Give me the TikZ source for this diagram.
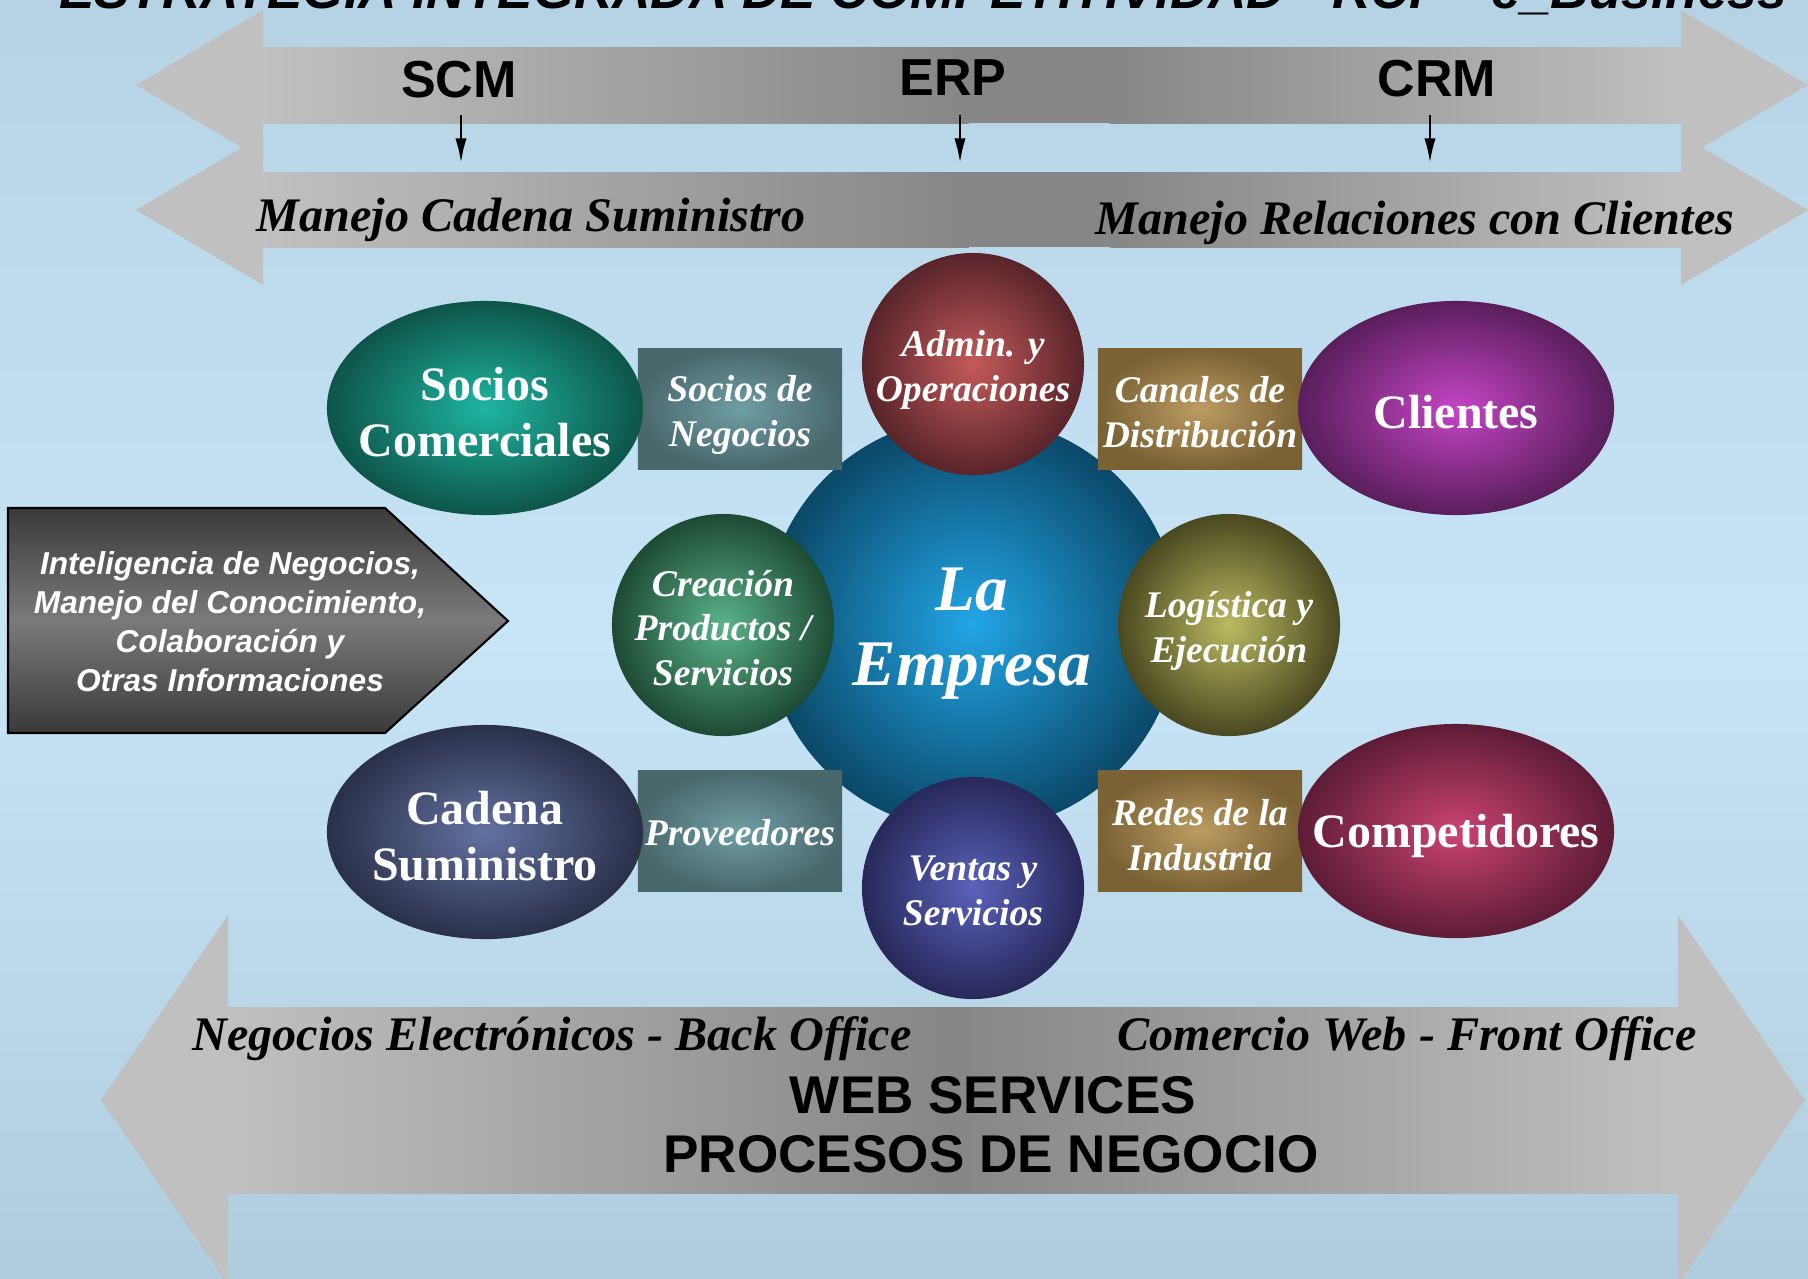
\documentclass[tikz,border=0pt]{standalone}
\usepackage{fontspec}
\setmainfont{Liberation Serif}
\setsansfont{Liberation Sans}
\usetikzlibrary{shapes.geometric,arrows.meta}
\definecolor{bgTop}{HTML}{B6D3E5}
\definecolor{bgMid}{HTML}{C7E5F7}
\definecolor{bgBot}{HTML}{B0CDE0}
\definecolor{gL}{HTML}{C0C0C0}
\definecolor{gD}{HTML}{868686}
\definecolor{pgTop}{HTML}{3A3A3A}
\definecolor{pgMid}{HTML}{7A7A7A}
\tikzset{
  oval/.style={ellipse, minimum width=3.16cm, minimum height=2.14cm, inner sep=0pt},
  ovaltext/.style={text=white, align=center, inner sep=0pt, font=\bfseries\fontsize{13.65pt}{15.9pt}\selectfont},
  ball/.style={circle, minimum size=2.22cm, inner sep=0pt},
  tile/.style={rectangle, minimum width=2.04cm, minimum height=1.21cm, inner sep=0pt},
  smalltext/.style={text=white, align=center, inner sep=0pt, font=\bfseries\itshape\fontsize{10.7pt}{12.7pt}\selectfont},
  teal/.style={inner color={rgb,255:red,110;green,158;blue,164}, outer color={rgb,255:red,74;green,104;blue,108}},
  gold/.style={inner color={rgb,255:red,188;green,156;blue,98}, outer color={rgb,255:red,122;green,98;blue,52}},
  barlabel/.style={font=\sffamily\bfseries\fontsize{14.8pt}{17pt}\selectfont, inner sep=0pt},
  itlabel/.style={font=\bfseries\itshape\fontsize{13.7pt}{16pt}\selectfont, inner sep=0pt},
  smallarrow/.style={-{Latex[length=7pt,width=3.2pt]}, line width=0.7pt, black},
}
\begin{document}
\begin{tikzpicture}[x=0.01cm,y=-0.01cm]
\useasboundingbox (0,0) rectangle (1808,1278);
\clip (0,0) rectangle (1808,1278);
\shade[top color=bgTop, bottom color=bgBot, middle color=bgMid] (0,0) rectangle (1808,1278);

% title (cut off at the top)
\node[anchor=base, inner sep=0pt, font=\sffamily\bfseries\itshape\fontsize{15.1pt}{17pt}\selectfont] (title) at (923,8)
  {ESTRATEGIA INTEGRADA DE COMPETITIVIDAD - RCP - e\_Business};

% upper double arrow
\fill[gL] (136,85) -- (263,10) -- (263,47) -- (1681,47) -- (1681,10) -- (1808,85) -- (1681,160) -- (1681,123) -- (263,123) -- (263,160) -- cycle;
\shade[left color=gL, right color=gD] (263,47) rectangle (969,123);
\fill[gD] (968,47) rectangle (1111,123);
\shade[left color=gD, right color=gL] (1110,47) rectangle (1681,123);

% second double arrow
\fill[gL] (136,210) -- (263,135) -- (263,172) -- (1681,172) -- (1681,135) -- (1808,210) -- (1681,285) -- (1681,247) -- (263,247) -- (263,285) -- cycle;
\shade[left color=gL, right color=gD] (263,172) rectangle (969,247);
\fill[gD] (968,172) rectangle (1111,247);
\shade[left color=gD, right color=gL] (1110,172) rectangle (1681,247);

% bottom double arrow
\fill[gL] (101,1100) -- (228,915) -- (228,1007) -- (1678,1007) -- (1678,915) -- (1805,1100) -- (1678,1285) -- (1678,1193) -- (228,1193) -- (228,1285) -- cycle;
\shade[left color=gL, right color=gD] (228,1007) rectangle (954,1193);
\shade[left color=gD, right color=gL] (953,1007) rectangle (1678,1193);

% labels on the upper arrows
\node[barlabel, anchor=base] (scm) at (459,97) {SCM};
\node[barlabel, anchor=base] (erp) at (953,95) {ERP};
\node[barlabel, anchor=base] (crm) at (1437,96) {CRM};
\coordinate (scmA) at (461,115); \coordinate (scmB) at (461,163);
\coordinate (erpA) at (960,115); \coordinate (erpB) at (960,163);
\coordinate (crmA) at (1430,115); \coordinate (crmB) at (1430,163);
\draw[smallarrow] (scmA) -- (scmB);
\draw[smallarrow] (erpA) -- (erpB);
\draw[smallarrow] (crmA) -- (crmB);
\node[itlabel, anchor=base] (mcs) at (531,231) {Manejo Cadena Suministro};
\node[itlabel, anchor=base] (mrc) at (1415,234) {Manejo Relaciones con Clientes};

% labels on the bottom arrow
\node[itlabel, anchor=base] (neb) at (552,1050) {Negocios Electrónicos - Back Office};
\node[itlabel, anchor=base] (cwf) at (1407,1050) {Comercio Web - Front Office};
\node[barlabel, anchor=base, font=\sffamily\bfseries\fontsize{15.1pt}{17pt}\selectfont] (ws) at (993,1113) {WEB SERVICES};
\node[barlabel, anchor=base, font=\sffamily\bfseries\fontsize{15.1pt}{17pt}\selectfont] (pdn) at (991,1172) {PROCESOS DE NEGOCIO};

% left pentagon arrow
\shadedraw[top color=pgTop, bottom color=pgTop, middle color=pgMid, draw=black, line width=0.6pt]
  (8,508) -- (385,508) -- (508,621) -- (385,733) -- (8,733) -- cycle;
\node[text=white, align=center, inner sep=0pt, font=\sffamily\bfseries\itshape\fontsize{9pt}{11.1pt}\selectfont] (bi) at (230,622)
  {Inteligencia de Negocios,\\Manejo del Conocimiento,\\Colaboración y\\Otras Informaciones};

% central company circle
\node[circle, minimum size=4.14cm, inner sep=0pt, inner color={rgb,255:red,34;green,166;blue,230}, outer color={rgb,255:red,11;green,72;blue,104}] (emp) at (972,624) {};
\node[text=white, align=center, inner sep=0pt, font=\bfseries\itshape\fontsize{18.5pt}{21.3pt}\selectfont] (empt) at (972,634) {La\\Empresa};

% tiles
\node[tile, teal] (sdn) at (740,409) {};
\node[smalltext] (sdnT) at (740,415) {Socios de\\Negocios};
\node[tile, teal] (prov) at (740,831) {};
\node[smalltext] (provT) at (740,833) {Proveedores};
\node[tile, gold] (cdd) at (1200,409) {};
\node[smalltext] (cddT) at (1200,412) {Canales de\\Distribución};
\node[tile, gold] (rdi) at (1200,831) {};
\node[smalltext] (rdiT) at (1200,835) {Redes de la\\Industria};

% small balls
\node[ball, inner color={rgb,255:red,196;green,90;blue,90}, outer color={rgb,255:red,88;green,36;blue,42}] (adm) at (973,364) {};
\node[smalltext] (admT) at (973,370) {Admin. y\\Operaciones};
\node[ball, inner color={rgb,255:red,90;green,98;blue,186}, outer color={rgb,255:red,40;green,40;blue,90}] (vys) at (973,888) {};
\node[smalltext] (vysT) at (973,891) {Ventas y\\Servicios};
\node[ball, inner color={rgb,255:red,90;green,180;blue,138}, outer color={rgb,255:red,30;green,74;blue,52}] (cps) at (723,625) {};
\node[smalltext] (cpsT) at (723,628) {Creación\\Productos /\\Servicios};
\node[ball, inner color={rgb,255:red,186;green,186;blue,98}, outer color={rgb,255:red,74;green,72;blue,32}] (lye) at (1229,625) {};
\node[smalltext] (lyeT) at (1229,631) {Logística y\\Ejecución};

% ovals
\node[oval, inner color={rgb,255:red,31;green,181;blue,162}, outer color={rgb,255:red,13;green,85;blue,73}] (soc) at (485,408) {};
\node[ovaltext] (socT) at (485,412) {Socios\\Comerciales};
\node[oval, inner color={rgb,255:red,99;green,114;blue,162}, outer color={rgb,255:red,42;green,48;blue,73}] (cad) at (485,832) {};
\node[ovaltext] (cadT) at (485,836) {Cadena\\Suministro};
\node[oval, inner color={rgb,255:red,197;green,69;blue,197}, outer color={rgb,255:red,90;green,30;blue,92}] (cli) at (1456,408) {};
\node[ovaltext] (cliT) at (1456,412) {Clientes};
\node[oval, inner color={rgb,255:red,203;green,67;blue,115}, outer color={rgb,255:red,94;green,28;blue,54}] (com) at (1456,831) {};
\node[ovaltext] (comT) at (1456,836) {Competidores};
\end{tikzpicture}
\end{document}
